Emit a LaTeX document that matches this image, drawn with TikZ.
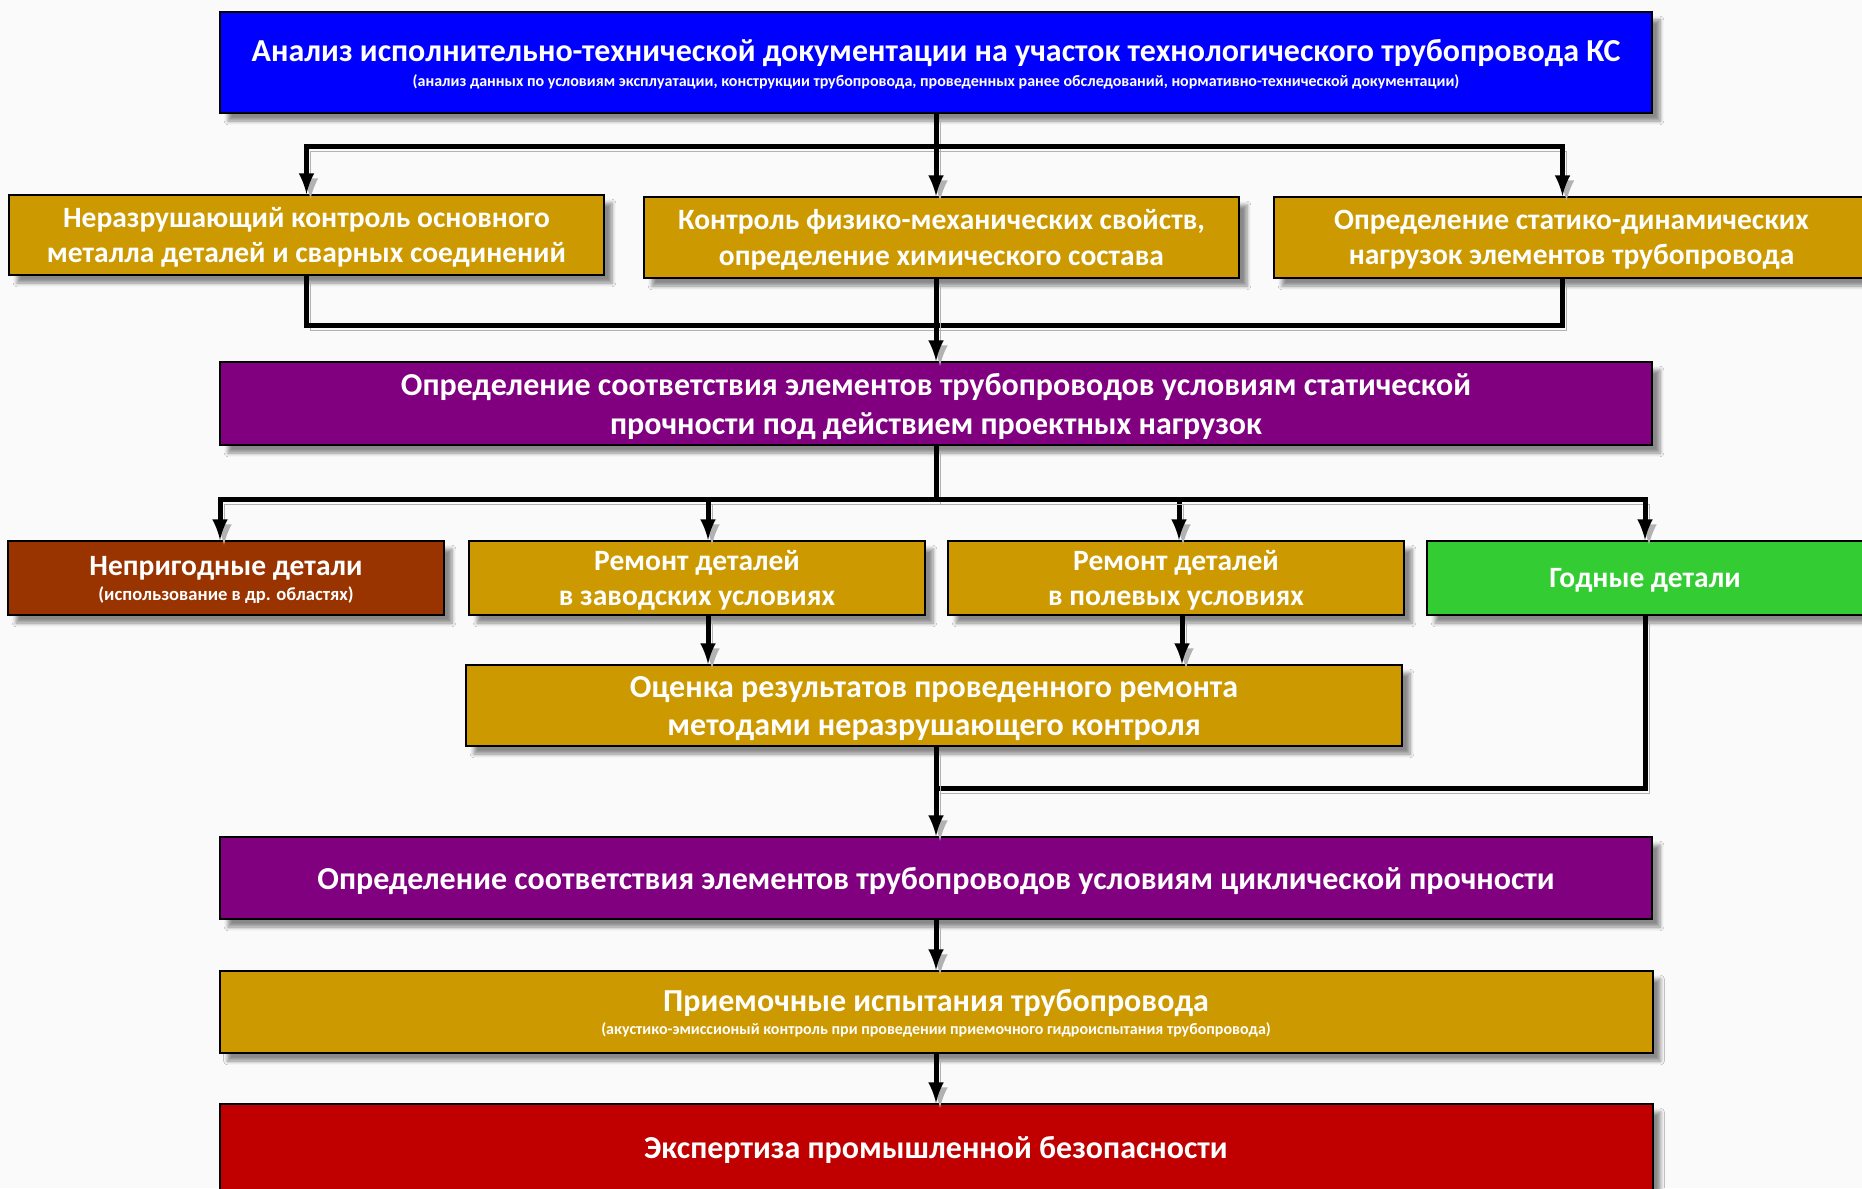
\documentclass[tikz,border=0pt]{standalone}
\usepackage{fontspec}
\setmainfont{Carlito}
\usetikzlibrary{shadows.blur}

\definecolor{docblue}{HTML}{0000FF}
\definecolor{gold}{HTML}{CC9900}
\definecolor{violet}{HTML}{800080}
\definecolor{rust}{HTML}{993300}
\definecolor{okgreen}{HTML}{33CC33}
\definecolor{expred}{HTML}{C00000}

\begin{document}
\begin{tikzpicture}[x=0.5pt,y=-0.5pt,
    box/.style={draw=black, line width=1pt, text=white, align=center, inner sep=0pt, text depth=0pt,
        font=\bfseries\fontsize{14.75}{17.8}\selectfont,
        blur shadow={shadow xshift=4pt, shadow yshift=-4pt, shadow blur steps=6, shadow opacity=45}},
    bigbox/.style={box, font=\bfseries\fontsize{16}{19.5}\selectfont},
    conn/.style={line width=2.5pt, black,
        preaction={draw=black!30, transform canvas={shift={(2pt,-2.5pt)}}}}]

    \fill[black!2] (0,0) rectangle (1862,1188);
    \useasboundingbox (0,0) rectangle (1862,1188);

    \coordinate (bus1) at (936,146);
    \coordinate (bus2) at (936,325);
    \coordinate (bus3) at (936,499);
    \coordinate (bus4) at (936,788);

    \node[box, fill=docblue, minimum width=716pt, minimum height=50.5pt,
        font=\bfseries\fontsize{16}{12.5}\selectfont] (analiz) at (936,62.5)
        {Анализ исполнительно-технической документации на участок технологического трубопровода КС\\
         \fontsize{8}{12.5}\selectfont (анализ данных по условиям эксплуатации, конструкции трубопровода, проведенных ранее обследований, нормативно-технической документации)};

    \node[box, fill=gold, minimum width=297.5pt, minimum height=40pt] (nk) at (306.5,235)
        {Неразрушающий контроль основного\\металла деталей и сварных соединений};
    \node[box, fill=gold, minimum width=297.5pt, minimum height=40.5pt] (kontrol) at (941.5,237.5)
        {Контроль физико-механических свойств,\\определение химического состава};
    \node[box, fill=gold, minimum width=297.5pt, minimum height=40.5pt] (nagr) at (1571.5,237.5)
        {Определение статико-динамических\\нагрузок элементов трубопровода};

    \node[bigbox, fill=violet, minimum width=716pt, minimum height=41.5pt] (stat) at (936,403.5)
        {Определение соответствия элементов трубопроводов условиям статической\\прочности под действием проектных нагрузок};

    \node[box, fill=rust, minimum width=218pt, minimum height=37pt,
        font=\bfseries\fontsize{14.75}{12.5}\selectfont] (neprig) at (226,578)
        {Непригодные детали\\
         \fontsize{9.3}{12.5}\selectfont (использование в др. областях)};
    \node[box, fill=gold, minimum width=228pt, minimum height=37pt] (zavod) at (697,578)
        {Ремонт деталей\\в заводских условиях};
    \node[box, fill=gold, minimum width=228pt, minimum height=37pt] (polev) at (1176,578)
        {Ремонт деталей\\в полевых условиях};
    \node[box, fill=okgreen, minimum width=218pt, minimum height=37pt] (godn) at (1645,578)
        {Годные детали};

    \node[bigbox, fill=gold, minimum width=468pt, minimum height=40.5pt,
        font=\bfseries\fontsize{16}{19}\selectfont] (ocenka) at (934,705.5)
        {Оценка результатов проведенного ремонта\\методами неразрушающего контроля};

    \node[bigbox, fill=violet, minimum width=716pt, minimum height=41pt] (cikl) at (936,878)
        {Определение соответствия элементов трубопроводов условиям циклической прочности};

    \node[bigbox, fill=gold, minimum width=716.5pt, minimum height=41pt,
        font=\bfseries\fontsize{16}{11.5}\selectfont] (priem) at (936,1012)
        {Приемочные испытания трубопровода\\
         \fontsize{8}{11.5}\selectfont (акустико-эмиссионый контроль при проведении приемочного гидроиспытания трубопровода)};

    \node[bigbox, fill=expred, minimum width=716.5pt, minimum height=43pt] (eksp) at (936,1147)
        {Экспертиза промышленной безопасности};

    \coordinate (nagrIn) at ([xshift=-4.5pt]nagr.north);
    \coordinate (nagrOut) at ([xshift=-4.5pt]nagr.south);
    \coordinate (neprigIn) at ([xshift=-3pt]neprig.north);
    \coordinate (zavodIn) at ([xshift=5.5pt]zavod.north);
    \coordinate (zavodOut) at ([xshift=5.5pt]zavod.south);
    \coordinate (polevIn) at ([xshift=1.5pt]polev.north);
    \coordinate (polevOut) at ([xshift=3pt]polev.south);

    % from the documentation to the three checks
    \draw[conn] (analiz.south) -- (bus1);
    \draw[conn,-latex] (bus1) -| (nk.north);
    \draw[conn,-latex] (bus1) -- (kontrol.north -| bus1);
    \draw[conn,-latex] (bus1) -| (nagrIn);

    \draw[conn] (nk.south) |- (bus2);
    \draw[conn] (nagrOut) |- (bus2);
    \draw[conn,-latex] (kontrol.south -| stat.north) -- (stat.north);

    % decision on the parts
    \draw[conn] (stat.south) -- (bus3);
    \draw[conn,-latex] (bus3) -| (neprigIn);
    \draw[conn,-latex] (bus3) -| (zavodIn);
    \draw[conn,-latex] (bus3) -| (polevIn);
    \draw[conn,-latex] (bus3) -| (godn.north);

    \draw[conn,-latex] (zavodOut) -- (zavodOut |- ocenka.north);
    \draw[conn,-latex] (polevOut) -- (polevOut |- ocenka.north);
    \draw[conn] (godn.south) |- (bus4);

    \draw[conn,-latex] (ocenka.south -| cikl.north) -- (cikl.north);
    \draw[conn,-latex] (cikl.south) -- (priem.north);
    \draw[conn,-latex] (priem.south) -- (eksp.north);
\end{tikzpicture}
\end{document}
